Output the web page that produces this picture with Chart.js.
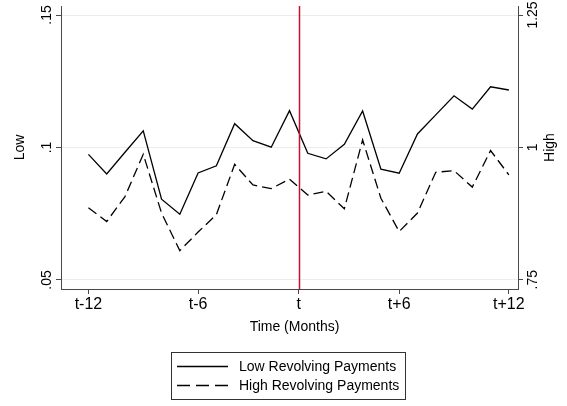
<!DOCTYPE html>
<html>
<head>
<meta charset="utf-8">
<title>Revolving payments around t</title>
<script src="https://cdn.jsdelivr.net/npm/chart.js@4/dist/chart.umd.min.js"></script>
<style>
  html, body { margin: 0; padding: 0; background: #fff; }
  #wrap { width: 567px; height: 406px; }
</style>
</head>
<body>
<div id="wrap"><canvas id="c" width="567" height="406"></canvas></div>
<script>
// Months relative to the event (no month 0: the event sits between -1 and +1)
const months = [-12, -11, -10, -9, -8, -7, -6, -5, -4, -3, -2, -1,
                 1, 2, 3, 4, 5, 6, 7, 8, 9, 10, 11, 12];

// Low revolving payments (left axis, "Low")
const lowValues = [0.0974, 0.0900, 0.0982, 0.1063, 0.0805, 0.0748, 0.0904, 0.0931,
                   0.1090, 0.1026, 0.1001, 0.1139, 0.0978, 0.0957, 0.1012, 0.1138,
                   0.0918, 0.0903, 0.1051, 0.1123, 0.1195, 0.1145, 0.1229, 0.1217];

// High revolving payments (right axis, "High")
const highValues = [0.886, 0.860, 0.907, 0.987, 0.876, 0.805, 0.840, 0.873,
                    0.968, 0.929, 0.922, 0.940, 0.910, 0.917, 0.884, 1.014,
                    0.904, 0.841, 0.876, 0.953, 0.956, 0.925, 0.994, 0.948];

// Axis ticks
const xTickMonths = [-12, -6, 0, 6, 12];
const xTickLabels = ['t-12', 't-6', 't', 't+6', 't+12'];
const leftTicks = [0.05, 0.10, 0.15];
const leftTickLabels = ['.05', '.1', '.15'];
const rightTicks = [0.75, 1.00, 1.25];
const rightTickLabels = ['.75', '1', '1.25'];

const seriesNames = ['Low Revolving Payments', 'High Revolving Payments'];
const xTitle = 'Time (Months)';
const eventMonth = 0;

// Month -> position along the axis (months -12..-1 => 1..12, 1..12 => 13..24, 0 => 12.5)
function pos(m) { return m < 0 ? m + 13 : (m > 0 ? m + 12 : 12.5); }

const FONT = '"Liberation Sans", Arial, Helvetica, sans-serif';
const AXIS = '#4a4a4a';
const GRID = '#e6eef0';

const lowPoints = months.map((m, i) => ({ x: pos(m), y: lowValues[i] }));
const highPoints = months.map((m, i) => ({ x: pos(m), y: highValues[i] }));

// Vertical labels, axis title, event line and framed legend
const decorations = {
  id: 'decorations',
  afterDatasetsDraw(chart) {
    const ctx = chart.ctx;
    const a = chart.chartArea;
    const xs = chart.scales.x, yl = chart.scales.yL, yr = chart.scales.yR;

    // event line
    const ex = Math.round(xs.getPixelForValue(pos(eventMonth))) + 0.5;
    ctx.save();
    ctx.strokeStyle = '#c8102e';
    ctx.lineWidth = 1.5;
    ctx.beginPath();
    ctx.moveTo(ex, a.top);
    ctx.lineTo(ex, a.bottom);
    ctx.stroke();
    ctx.restore();

    const vtext = (txt, x, y, size) => {
      ctx.save();
      ctx.translate(x, y);
      ctx.rotate(-Math.PI / 2);
      ctx.font = size + 'px ' + FONT;
      ctx.fillStyle = '#000';
      ctx.textAlign = 'center';
      ctx.textBaseline = 'middle';
      ctx.fillText(txt, 0, 0);
      ctx.restore();
    };

    leftTicks.forEach((v, i) => vtext(leftTickLabels[i], 47, yl.getPixelForValue(v), 14));
    rightTicks.forEach((v, i) => vtext(rightTickLabels[i], 533, yr.getPixelForValue(v), 14));
    vtext('Low', 20, 147.5, 14);
    vtext('High', 550, 147.5, 14);

    // x axis title
    ctx.save();
    ctx.font = '14px ' + FONT;
    ctx.fillStyle = '#000';
    ctx.textAlign = 'center';
    ctx.textBaseline = 'middle';
    ctx.fillText(xTitle, (a.left + a.right) / 2 + 5, 327);
    ctx.restore();

    // legend
    ctx.save();
    ctx.strokeStyle = '#333';
    ctx.lineWidth = 1;
    ctx.strokeRect(171.5, 352.5, 234, 47);
    ctx.font = '14px ' + FONT;
    ctx.fillStyle = '#000';
    ctx.textAlign = 'left';
    ctx.textBaseline = 'middle';
    const rows = [366.5, 385.5];
    rows.forEach((ry, i) => {
      ctx.save();
      ctx.strokeStyle = '#000';
      ctx.lineWidth = 1.3;
      if (i === 1) ctx.setLineDash([13, 6]);
      ctx.beginPath();
      ctx.moveTo(177, ry);
      ctx.lineTo(228, ry);
      ctx.stroke();
      ctx.restore();
      ctx.fillText(seriesNames[i], 239, ry + 0.5);
    });
    ctx.restore();
  }
};

new Chart(document.getElementById('c'), {
  type: 'line',
  data: {
    datasets: [
      {
        label: seriesNames[0],
        data: lowPoints,
        yAxisID: 'yL',
        borderColor: '#000',
        borderWidth: 1.3,
        pointRadius: 0,
        tension: 0,
        fill: false
      },
      {
        label: seriesNames[1],
        data: highPoints,
        yAxisID: 'yR',
        borderColor: '#000',
        borderWidth: 1.3,
        borderDash: [10, 5],
        pointRadius: 0,
        tension: 0,
        fill: false
      }
    ]
  },
  options: {
    responsive: false,
    animation: false,
    devicePixelRatio: 1,
    layout: { padding: { top: 6, left: 0, right: 0, bottom: 0 } },
    plugins: {
      legend: { display: false },
      tooltip: { enabled: false }
    },
    scales: {
      x: {
        type: 'linear',
        min: -0.5,
        max: 24.5,
        afterBuildTicks: (s) => { s.ticks = xTickMonths.map(m => ({ value: pos(m) })); },
        afterFit: (s) => { s.height = 117; },
        ticks: {
          autoSkip: false,
          maxRotation: 0,
          padding: 1,
          color: '#000',
          font: { family: FONT, size: 16 },
          callback: (v) => {
            const i = xTickMonths.findIndex(m => pos(m) === v);
            return i >= 0 ? xTickLabels[i] : '';
          }
        },
        grid: { drawOnChartArea: false, drawTicks: true, tickLength: 5, tickColor: AXIS },
        border: { display: true, color: AXIS, width: 1 }
      },
      yL: {
        type: 'linear',
        position: 'left',
        min: 0.0466,
        max: 0.1534,
        afterBuildTicks: (s) => { s.ticks = leftTicks.map(v => ({ value: v })); },
        afterFit: (s) => { s.width = 61; },
        ticks: { display: false },
        grid: { color: GRID, lineWidth: 1, drawTicks: true, tickLength: 5, tickColor: AXIS },
        border: { display: true, color: AXIS, width: 1 }
      },
      yR: {
        type: 'linear',
        position: 'right',
        min: 0.7325,
        max: 1.267,
        afterBuildTicks: (s) => { s.ticks = rightTicks.map(v => ({ value: v })); },
        afterFit: (s) => { s.width = 49; },
        ticks: { display: false },
        grid: { drawOnChartArea: false, drawTicks: true, tickLength: 5, tickColor: AXIS },
        border: { display: true, color: AXIS, width: 1 }
      }
    }
  },
  plugins: [decorations]
});
</script>
</body>
</html>
